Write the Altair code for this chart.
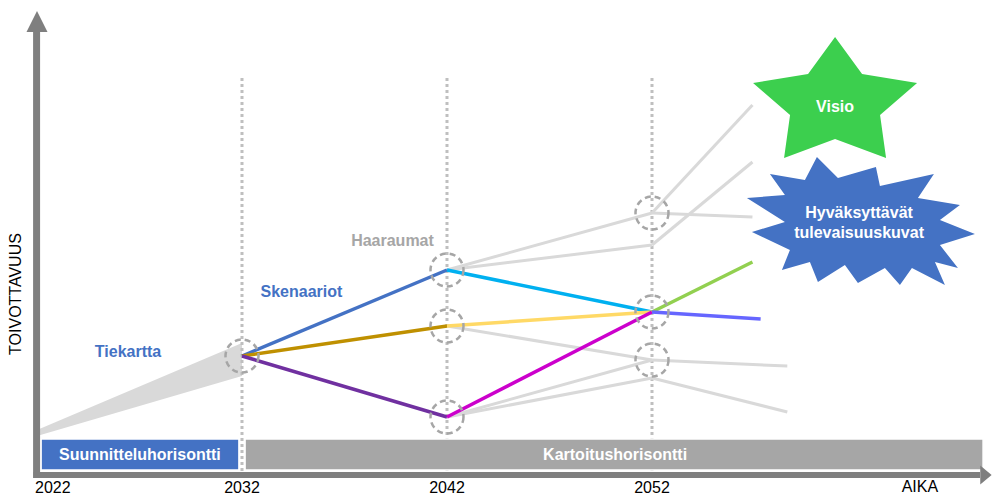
import altair as alt
import pandas as pd

# ---------------- scale frame (years on x, desirability on y) ----------------
X_DOMAIN = [2020.5854, 2068.5854]
Y_DOMAIN = [-5, 116.75]
W, H = 984, 487
FONT = "Liberation Sans"

# ---------------- data ----------------
tick_years = [2022, 2032, 2042, 2052]
tick_labels = ["2022", "2032", "2042", "2052"]

# Tiekartta (roadmap) wedge
wedge_year = [2022, 2032]
wedge_low = [9.75, 24.75]
wedge_high = [11.25, 33.0]

# time horizons (dotted verticals)
horizon_years = [2032, 2042, 2052]
horizon_top = [99.25, 99.25, 99.25]
horizon_bottom = [0.5, 0.5, 0.5]

# coloured scenario segments
seg_names = ["s1", "s2", "s3", "s4", "s5", "s6", "s7", "s8"]
seg_colors = ["#4472c4", "#bf9000", "#7030a0", "#00b0f0", "#ffd966", "#cc00cc", "#92d050", "#6666ff"]
seg_x1 = [2032, 2032, 2032, 2042, 2042, 2042, 2052, 2052]
seg_y1 = [29.75, 29.75, 29.75, 51.25, 37.25, 14.5, 40.75, 40.75]
seg_x2 = [2042, 2042, 2042, 2052, 2052, 2052, 2056.9, 2057.3]
seg_y2 = [51.25, 37.25, 14.5, 40.75, 40.75, 40.75, 53.25, 39.0]

# grey alternative branches
grey_x1 = [2042, 2042, 2052, 2052, 2052, 2042, 2042, 2042, 2052, 2052]
grey_y1 = [51.25, 51.25, 65.5, 57.5, 65.5, 37.25, 14.5, 14.5, 28.75, 24.25]
grey_x2 = [2052, 2052, 2056.9, 2056.9, 2056.9, 2052, 2052, 2052, 2058.6, 2058.6]
grey_y2 = [65.5, 57.5, 92.5, 78.25, 64.5, 28.75, 28.75, 24.25, 27.25, 15.75]

# branching points (dashed circles)
node_x = [2032, 2042, 2042, 2042, 2052, 2052, 2052]
node_y = [29.75, 51.25, 37.25, 14.5, 65.5, 40.75, 28.75]

# horizon boxes
box_names = ["Suunnitteluhorisontti", "Kartoitushorisontti"]
box_colors = ["#4472c4", "#a6a6a6"]
box_x1 = [2022.2, 2032.15]
box_x2 = [2031.85, 2068.15]
box_y1 = [1.25, 1.25]
box_y2 = [9.0, 9.0]
box_label_x = [2027.02, 2050.2]
box_label_y = [5.0, 5.0]

# shapes: Visio star and accepted futures burst
shape_names = ["Visio", "Hyväksyttävät tulevaisuuskuvat"]
shape_x = [2060.93, 2062.24]
shape_y = [93.75, 63.25]

# text labels
blue_labels = ["Tiekartta", "Skenaariot"]
blue_x = [2026.44, 2034.9]
blue_y = [30.75, 45.75]
grey_label = ["Haaraumat"]
grey_label_x = [2039.34]
grey_label_y = [58.5]
shape_text = ["Visio", "Hyväksyttävät", "tulevaisuuskuvat"]
shape_text_x = [2060.93, 2062.1, 2062.1]
shape_text_y = [92.0, 65.5, 60.5]

# axes
axis_origin_x = 2021.98
axis_left_x = 2021.83
axis_y_top = 110.75
axis_x_end = 2068.0
arrow_up = (2022.0, 113.4)
arrow_right = (2068.29, 0.0)
y_title = ("TOIVOTTAVUUS", 2021.0, 45.25)
x_title = ("AIKA", 2065.07, -4.3)
tick_label_y = -4.375

# ---------------- helpers ----------------
xs = alt.Scale(domain=X_DOMAIN, nice=False, zero=False)
ys = alt.Scale(domain=Y_DOMAIN, nice=False, zero=False)


def X(f):
    return alt.X(f, type="quantitative", scale=xs, axis=None)


def Y(f):
    return alt.Y(f, type="quantitative", scale=ys, axis=None)


def star_path():
    pts = [(0, -63), (-27, -26), (-82, -17), (-45, 15), (-51, 58), (0, 39),
           (51, 58), (45, 15), (82, -17), (27, -26)]
    return "M" + "L".join(f"{x/100:.2f},{y/100:.2f}" for x, y in pts) + "Z"


def burst_path():
    pts = [(-45, -65), (-24, -44), (14, -55), (18, -36), (72, -48), (56, -24),
           (98, -17), (78, -2), (113, 12), (78, 23), (96, 46), (73, 40),
           (83, 63), (50, 46), (38, 63), (23, 46), (-4, 61), (-17, 43),
           (-44, 60), (-52, 40), (-80, 48), (-72, 28), (-110, 10), (-77, 0),
           (-115, -24), (-77, -27), (-92, -48), (-57, -42)]
    return "M" + "L".join(f"{x/100:.2f},{y/100:.2f}" for x, y in pts) + "Z"


# ---------------- layers ----------------
wedge = alt.Chart(pd.DataFrame({"x": wedge_year, "lo": wedge_low, "hi": wedge_high})).mark_area(
    color="#d9d9d9", opacity=1
).encode(x=X("x"), y=Y("lo"), y2="hi")

horizons = alt.Chart(pd.DataFrame({"x": horizon_years, "t": horizon_top, "b": horizon_bottom})).mark_rule(
    color="#bfbfbf", strokeWidth=3, strokeDash=[3, 3]
).encode(x=X("x"), y=Y("t"), y2="b")

grey = alt.Chart(pd.DataFrame({"x1": grey_x1, "y1": grey_y1, "x2": grey_x2, "y2": grey_y2})).mark_rule(
    color="#d9d9d9", strokeWidth=3
).encode(x=X("x1"), y=Y("y1"), x2="x2", y2="y2")

segs = alt.Chart(pd.DataFrame({"s": seg_names, "x1": seg_x1, "y1": seg_y1, "x2": seg_x2, "y2": seg_y2})).mark_rule(
    strokeWidth=3.5
).encode(
    x=X("x1"), y=Y("y1"), x2="x2", y2="y2",
    color=alt.Color("s:N", scale=alt.Scale(domain=seg_names, range=seg_colors), legend=None),
)

nodes = alt.Chart(pd.DataFrame({"x": node_x, "y": node_y})).mark_point(
    shape="circle", size=1089, filled=False, color="#a6a6a6", strokeWidth=2.5,
    strokeDash=[6, 4], opacity=1
).encode(x=X("x"), y=Y("y"))

boxes = alt.Chart(pd.DataFrame({"n": box_names, "x1": box_x1, "x2": box_x2, "y1": box_y1, "y2": box_y2})).mark_rect(
    stroke="white", strokeWidth=1.5, opacity=1
).encode(
    x=X("x1"), x2="x2", y=Y("y1"), y2="y2",
    fill=alt.Fill("n:N", scale=alt.Scale(domain=box_names, range=box_colors), legend=None),
)

box_text = alt.Chart(pd.DataFrame({"t": box_names, "x": box_label_x, "y": box_label_y})).mark_text(
    font=FONT, fontSize=16, fontWeight="bold", color="white", baseline="middle"
).encode(x=X("x"), y=Y("y"), text="t:N")

axis_lines = alt.Chart(pd.DataFrame({
    "x1": [axis_origin_x, axis_left_x], "x2": [axis_origin_x, axis_x_end],
    "y1": [-0.75, 0.0], "y2": [axis_y_top, 0.0], "w": ["v", "h"]
})).mark_rule(color="#7f7f7f").encode(
    x=X("x1"), x2="x2", y=Y("y1"), y2="y2",
    strokeWidth=alt.StrokeWidth("w:N", scale=alt.Scale(domain=["v", "h"], range=[7, 6]), legend=None),
)

arrow_up_l = alt.Chart(pd.DataFrame({"x": [arrow_up[0]], "y": [arrow_up[1]]})).mark_point(
    shape="M0,-1L1,1L-1,1Z", size=441, filled=True, color="#7f7f7f", opacity=1, strokeWidth=0
).encode(x=X("x"), y=Y("y"))

arrow_right_l = alt.Chart(pd.DataFrame({"x": [arrow_right[0]], "y": [arrow_right[1]]})).mark_point(
    shape="M-0.6,-1L0.6,0L-0.6,1Z", size=361, filled=True, color="#7f7f7f", opacity=1, strokeWidth=0
).encode(x=X("x"), y=Y("y"))

shape_df = pd.DataFrame({"n": shape_names, "x": shape_x, "y": shape_y})
star = alt.Chart(shape_df[shape_df.n == "Visio"]).mark_point(
    shape=star_path(), size=40000, filled=True, color="#3ccf4e", opacity=1, strokeWidth=0
).encode(x=X("x"), y=Y("y"))
burst = alt.Chart(shape_df[shape_df.n != "Visio"]).mark_point(
    shape=burst_path(), size=40000, filled=True, color="#4472c4", opacity=1, strokeWidth=0
).encode(x=X("x"), y=Y("y"))

shape_txt = alt.Chart(pd.DataFrame({"t": shape_text, "x": shape_text_x, "y": shape_text_y})).mark_text(
    font=FONT, fontSize=16, fontWeight="bold", color="white", baseline="middle"
).encode(x=X("x"), y=Y("y"), text="t:N")

blue_txt = alt.Chart(pd.DataFrame({"t": blue_labels, "x": blue_x, "y": blue_y})).mark_text(
    font=FONT, fontSize=16, fontWeight="bold", color="#4472c4", baseline="middle"
).encode(x=X("x"), y=Y("y"), text="t:N")

grey_txt = alt.Chart(pd.DataFrame({"t": grey_label, "x": grey_label_x, "y": grey_label_y})).mark_text(
    font=FONT, fontSize=16, fontWeight="bold", color="#a6a6a6", baseline="middle"
).encode(x=X("x"), y=Y("y"), text="t:N")

ticks_df = pd.DataFrame({"x": tick_years, "t": tick_labels, "y": [tick_label_y] * len(tick_years)})
tick_first = alt.Chart(ticks_df.iloc[:1]).mark_text(
    font=FONT, fontSize=16, color="black", align="left", baseline="alphabetic", dx=-2
).encode(x=X("x"), y=Y("y"), text="t:N")
tick_rest = alt.Chart(ticks_df.iloc[1:]).mark_text(
    font=FONT, fontSize=16, color="black", align="center", baseline="alphabetic"
).encode(x=X("x"), y=Y("y"), text="t:N")

xt = alt.Chart(pd.DataFrame({"t": [x_title[0]], "x": [x_title[1]], "y": [x_title[2]]})).mark_text(
    font=FONT, fontSize=16, color="black", align="center", baseline="alphabetic"
).encode(x=X("x"), y=Y("y"), text="t:N")

yt = alt.Chart(pd.DataFrame({"t": [y_title[0]], "x": [y_title[1]], "y": [y_title[2]]})).mark_text(
    font=FONT, fontSize=16, color="black", align="center", baseline="middle", angle=270
).encode(x=X("x"), y=Y("y"), text="t:N")

chart = alt.layer(
    wedge, horizons, grey, segs, nodes, boxes, box_text, axis_lines, arrow_up_l, arrow_right_l,
    star, burst, shape_txt, blue_txt, grey_txt, tick_first, tick_rest, xt, yt
).properties(
    width=W, height=H, padding=0, background="white",
    autosize=alt.AutoSizeParams(type="none")
).configure_view(stroke="transparent", strokeWidth=0)

chart.save("out.html", embed_options={"renderer": "svg", "actions": False})
